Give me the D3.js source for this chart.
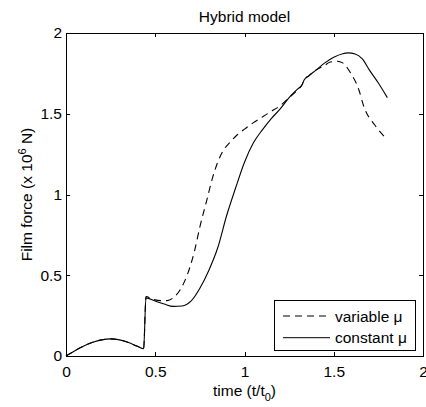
<!DOCTYPE html>
<head>
<meta charset="utf-8">
<title>Hybrid model</title>
<style>
body { margin: 0; background: #fff; }
text { font-family: "Liberation Sans", Arial, sans-serif; }
</style>
<script src="https://cdn.jsdelivr.net/npm/d3@7"></script>
</head>
<body>
<script>
// time (t/t0) and film force (x 10^6 N)
var tVar = [0, 0.05, 0.1, 0.15, 0.2, 0.25, 0.3, 0.35, 0.4, 0.435, 0.448, 0.49, 0.53, 0.566, 0.6, 0.65, 0.7, 0.72, 0.75, 0.79, 0.82, 0.85, 0.88, 0.92, 0.96, 1.0, 1.05, 1.1, 1.15, 1.2, 1.25, 1.3, 1.32, 1.335, 1.36, 1.4, 1.45, 1.48, 1.52, 1.55, 1.59, 1.64, 1.67, 1.73, 1.8];
var fVar = [0, 0.033, 0.062, 0.085, 0.1, 0.106, 0.1, 0.084, 0.06, 0.045, 0.368, 0.35, 0.343, 0.343, 0.36, 0.43, 0.57, 0.65, 0.8, 0.97, 1.1, 1.2, 1.27, 1.325, 1.37, 1.405, 1.445, 1.48, 1.515, 1.55, 1.6, 1.65, 1.675, 1.71, 1.735, 1.77, 1.8, 1.82, 1.825, 1.815, 1.76, 1.65, 1.54, 1.43, 1.34];

var tConst = [0, 0.05, 0.1, 0.15, 0.2, 0.25, 0.3, 0.35, 0.4, 0.435, 0.448, 0.5, 0.55, 0.6, 0.65, 0.7, 0.75, 0.8, 0.85, 0.9, 0.95, 1.0, 1.05, 1.1, 1.15, 1.2, 1.25, 1.3, 1.32, 1.335, 1.36, 1.4, 1.45, 1.5, 1.55, 1.58, 1.62, 1.66, 1.7, 1.75, 1.8];
var fConst = [0, 0.033, 0.062, 0.085, 0.1, 0.106, 0.1, 0.084, 0.06, 0.045, 0.36, 0.34, 0.322, 0.307, 0.31, 0.34, 0.42, 0.53, 0.67, 0.87, 1.04, 1.2, 1.32, 1.4, 1.47, 1.53, 1.6, 1.655, 1.675, 1.71, 1.735, 1.77, 1.815, 1.85, 1.872, 1.877, 1.87, 1.84, 1.77, 1.69, 1.6];

var xTicks = [0, 0.5, 1, 1.5, 2];
var yTicks = [0, 0.5, 1, 1.5, 2];
var legendNames = ["variable \u03bc", "constant \u03bc"];

var W = 426, H = 407;
var mLeft = 66, mRight = 423, mTop = 33, mBottom = 356;

var svg = d3.select("body").append("svg")
  .attr("width", W).attr("height", H);

var x = d3.scaleLinear().domain([0, 2]).range([mLeft, mRight]);
var y = d3.scaleLinear().domain([0, 2]).range([mBottom, mTop]);

var fs = "15.5px";

function styleAxis(g) {
  g.select(".domain").remove();
  g.selectAll("line").attr("stroke", "#000").attr("shape-rendering", "crispEdges");
  g.selectAll("text").attr("fill", "#000").style("font-size", fs).attr("font-family", null);
}

svg.append("g").attr("transform", "translate(0," + mBottom + ")")
  .call(d3.axisBottom(x).tickValues(xTicks).tickFormat(d3.format("")).tickSizeInner(-4).tickSizeOuter(0).tickPadding(10))
  .call(styleAxis);
svg.append("g").attr("transform", "translate(0," + mTop + ")")
  .call(d3.axisTop(x).tickValues(xTicks).tickFormat("").tickSizeInner(-4).tickSizeOuter(0))
  .call(styleAxis);
svg.append("g").attr("transform", "translate(" + mLeft + ",0)")
  .call(d3.axisLeft(y).tickValues(yTicks).tickFormat(d3.format("")).tickSizeInner(-4).tickSizeOuter(0).tickPadding(4))
  .call(styleAxis);
svg.append("g").attr("transform", "translate(" + mRight + ",0)")
  .call(d3.axisRight(y).tickValues(yTicks).tickFormat("").tickSizeInner(-4).tickSizeOuter(0))
  .call(styleAxis);

// box
svg.append("rect")
  .attr("x", mLeft + 0.5).attr("y", mTop + 0.5)
  .attr("width", mRight - mLeft).attr("height", mBottom - mTop)
  .attr("fill", "none").attr("stroke", "#000").attr("stroke-width", 1.2)
  .attr("shape-rendering", "crispEdges");

var line = d3.line().x(function(d) { return x(d[0]); }).y(function(d) { return y(d[1]); })
  .curve(d3.curveMonotoneX);

svg.append("path")
  .datum(d3.zip(tVar, fVar))
  .attr("d", line)
  .attr("fill", "none").attr("stroke", "#000").attr("stroke-width", 1.1)
  .attr("stroke-dasharray", "7,5");

svg.append("path")
  .datum(d3.zip(tConst, fConst))
  .attr("d", line)
  .attr("fill", "none").attr("stroke", "#000").attr("stroke-width", 1.1);

// title and axis labels
svg.append("text").attr("x", (mLeft + mRight) / 2).attr("y", 22)
  .attr("text-anchor", "middle").style("font-size", fs).text("Hybrid model");

var xl = svg.append("text").attr("x", (mLeft + mRight) / 2).attr("y", 396)
  .attr("text-anchor", "middle").style("font-size", fs);
xl.append("tspan").text("time (t/t");
xl.append("tspan").attr("dy", 5).style("font-size", "11px").text("0");
xl.append("tspan").attr("dy", -5).text(")");

var yl = svg.append("text")
  .attr("transform", "translate(32," + ((mTop + mBottom) / 2) + ") rotate(-90)")
  .attr("text-anchor", "middle").style("font-size", fs);
yl.append("tspan").text("Film force (x 10");
yl.append("tspan").attr("dy", -6).style("font-size", "11px").text("6");
yl.append("tspan").attr("dy", 6).text(" N)");

// legend
var lg = svg.append("g");
lg.append("rect").attr("x", 274.5).attr("y", 300.5).attr("width", 141).attr("height", 50)
  .attr("fill", "#fff").attr("stroke", "#000").attr("stroke-width", 1.2)
  .attr("shape-rendering", "crispEdges");
legendNames.forEach(function(name, i) {
  var ly = 316 + i * 21.7;
  lg.append("line").attr("x1", 283).attr("x2", 330).attr("y1", ly).attr("y2", ly)
    .attr("stroke", "#000").attr("stroke-width", 1)
    .attr("stroke-dasharray", i == 0 ? "7,5" : null);
  lg.append("text").attr("x", 335).attr("y", ly + 5.5)
    .style("font-size", fs).text(name);
});
</script>
</body>
